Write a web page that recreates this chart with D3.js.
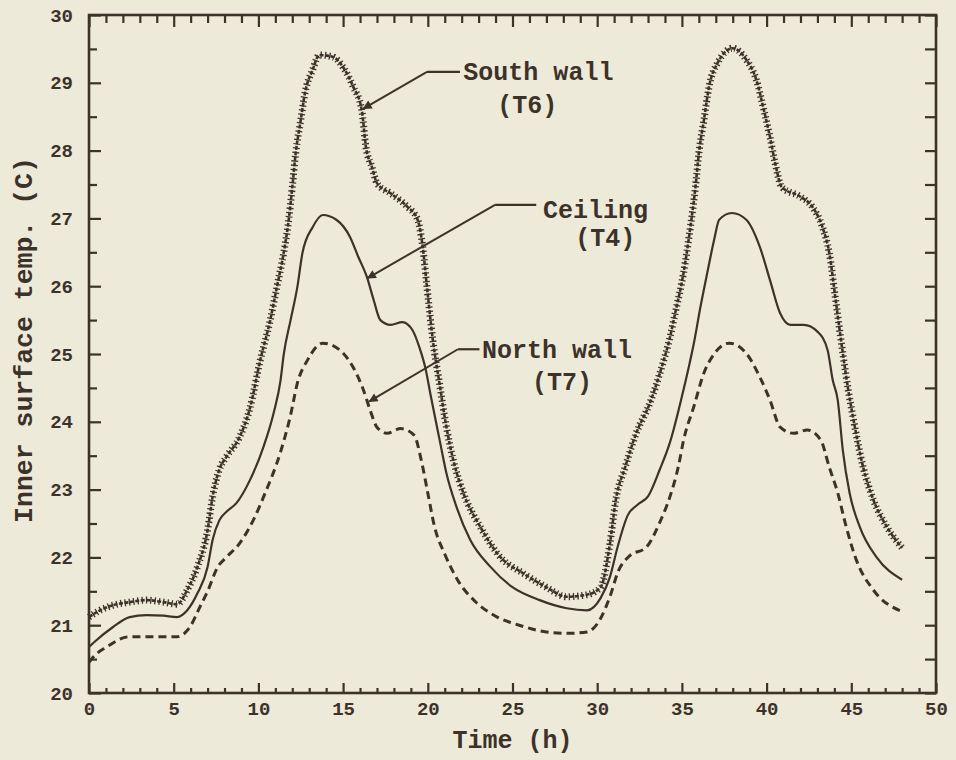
<!DOCTYPE html>
<html>
<head>
<meta charset="utf-8">
<script src="https://cdn.jsdelivr.net/npm/d3@7"></script>
<style>
  html, body { margin: 0; padding: 0; background: #eeead9; }
  svg { display: block; }
</style>
</head>
<body>
<div id="chart"></div>
<script>
// ---------------- data ----------------
const xTicks = [0, 5, 10, 15, 20, 25, 30, 35, 40, 45, 50];
const yTicks = [20, 21, 22, 23, 24, 25, 26, 27, 28, 29, 30];

// South wall (T6)
const tSouth = [0, 0.65, 1.5, 2.4, 3.4, 4.4, 5.2, 5.8, 6.4, 7.0, 7.3, 7.7, 8.1, 8.9, 9.5, 10.1, 10.7, 11.1, 11.5, 11.8, 12.0, 12.2, 12.5, 12.75, 13.2, 13.6, 14.4, 15.0, 15.6, 16.1, 16.35, 16.7, 17.0, 17.8, 18.8, 19.4, 19.7, 19.95, 20.3, 20.7, 21.1, 21.5, 22.1, 23.1, 24.3, 25.6, 27.0, 28.2, 29.4, 30.2, 30.75, 31.1, 31.65, 32.3, 33.1, 33.8, 34.3, 34.6, 35.1, 35.5, 35.8, 36.0, 36.3, 36.6, 37.1, 38.0, 38.8, 39.4, 39.8, 40.2, 40.5, 40.9, 42.0, 42.7, 43.3, 43.7, 44.1, 44.5, 44.8, 45.1, 45.7, 46.3, 47.1, 48.0];
const vSouth = [21.12, 21.22, 21.3, 21.34, 21.37, 21.34, 21.31, 21.52, 21.86, 22.4, 22.9, 23.3, 23.48, 23.78, 24.2, 24.9, 25.5, 26.0, 26.5, 27.0, 27.46, 27.96, 28.45, 28.85, 29.19, 29.41, 29.38, 29.23, 28.94, 28.6, 28.05, 27.76, 27.52, 27.37, 27.17, 26.98, 26.58, 25.99, 25.2, 24.55, 23.92, 23.44, 22.95, 22.45, 22.0, 21.77, 21.56, 21.42, 21.45, 21.56, 22.2, 22.85, 23.33, 23.83, 24.27, 24.8, 25.25, 25.6, 26.2, 26.87, 27.46, 27.96, 28.45, 28.94, 29.29, 29.51, 29.34, 29.04, 28.64, 28.2, 27.82, 27.46, 27.32, 27.17, 26.87, 26.49, 25.75, 25.01, 24.5, 24.07, 23.33, 22.85, 22.45, 22.14];

// Ceiling (T4)
const tCeil = [0, 0.35, 1.4, 2.4, 3.4, 4.4, 5.2, 5.8, 6.4, 7.0, 7.3, 7.7, 8.1, 8.7, 9.5, 10.3, 10.9, 11.3, 11.5, 11.9, 12.3, 12.6, 13.2, 13.8, 14.6, 15.4, 15.9, 16.4, 16.8, 17.2, 17.8, 18.5, 19.1, 19.5, 19.85, 20.2, 20.7, 21.1, 21.7, 22.5, 23.7, 25.0, 26.6, 28.2, 29.4, 30.2, 30.75, 31.2, 31.8, 32.4, 33.0, 33.7, 34.3, 34.95, 35.4, 35.7, 36.1, 36.5, 36.9, 37.2, 37.95, 38.8, 39.6, 40.2, 40.8, 41.4, 42.2, 43.0, 43.6, 43.9, 44.2, 44.5, 44.9, 45.5, 46.5, 48.0];
const vCeil = [20.68, 20.76, 20.97, 21.12, 21.15, 21.14, 21.12, 21.22, 21.47, 21.86, 22.26, 22.55, 22.67, 22.8, 23.14, 23.63, 24.13, 24.6, 25.0, 25.5, 25.99, 26.49, 26.87, 27.05, 26.98, 26.73, 26.43, 26.14, 25.8, 25.5, 25.43, 25.47, 25.35, 25.1, 24.8, 24.35, 23.73, 23.24, 22.74, 22.26, 21.86, 21.56, 21.37, 21.25, 21.22, 21.4, 21.71, 22.15, 22.62, 22.78, 22.9, 23.3, 23.7, 24.32, 24.8, 25.15, 25.7, 26.2, 26.68, 26.98, 27.08, 26.98, 26.58, 26.09, 25.6, 25.43, 25.43, 25.33, 25.06, 24.62, 24.32, 23.58, 22.95, 22.45, 22.0, 21.67];

// North wall (T7)
const tNorth = [0, 0.25, 1.05, 2.4, 3.8, 5.2, 5.95, 6.55, 7.0, 7.6, 8.1, 8.9, 9.7, 10.4, 11.3, 11.9, 12.3, 12.9, 13.8, 14.8, 15.6, 16.2, 16.6, 17.0, 17.6, 18.4, 19.2, 19.6, 20.0, 20.4, 21.0, 21.8, 22.8, 24.1, 25.4, 27.0, 28.2, 29.4, 30.2, 30.75, 31.25, 31.9, 32.9, 33.7, 34.3, 34.8, 35.1, 35.7, 36.3, 36.9, 37.8, 38.8, 39.6, 40.2, 40.8, 41.6, 42.4, 43.2, 43.7, 44.2, 44.7, 45.3, 46.3, 48.0];
const vNorth = [20.45, 20.53, 20.68, 20.83, 20.83, 20.83, 20.97, 21.27, 21.5, 21.86, 22.0, 22.21, 22.55, 22.95, 23.55, 24.1, 24.57, 24.91, 25.16, 25.06, 24.8, 24.47, 24.17, 23.92, 23.83, 23.9, 23.8, 23.45, 22.95, 22.45, 22.05, 21.65, 21.35, 21.12, 21.0, 20.9, 20.88, 20.9, 21.1, 21.42, 21.8, 22.02, 22.15, 22.52, 22.9, 23.35, 23.73, 24.22, 24.72, 25.0, 25.16, 25.01, 24.66, 24.32, 23.92, 23.83, 23.88, 23.73, 23.33, 22.95, 22.45, 21.96, 21.52, 21.2];

const seriesNames = ["South wall", "Ceiling", "North wall"];
const seriesCodes = ["(T6)", "(T4)", "(T7)"];

// ---------------- layout ----------------
const W = 956, H = 760;
const margin = { left: 89, right: 20, top: 15, bottom: 67 };
const ink = "#3d322a";
const bg = "#eeead9";

const svg = d3.select("#chart").append("svg")
  .attr("width", W).attr("height", H);
svg.append("rect").attr("width", W).attr("height", H).attr("fill", bg);

const x = d3.scaleLinear().domain([0, 50]).range([margin.left, W - margin.right]);
const y = d3.scaleLinear().domain([20, 30]).range([H - margin.bottom, margin.top]);

const tickFont = "'Liberation Mono', 'DejaVu Sans Mono', monospace";

// minor ticks
const xMinor = d3.range(0, 51, 1).filter(d => d % 5 !== 0);
const yMinor = d3.range(20, 30.01, 0.5).filter(d => Math.abs(d - Math.round(d)) > 0.01);

function styleAxis(g) {
  g.selectAll("path.domain").remove();
  g.selectAll("line").attr("stroke", ink).attr("stroke-width", 2.2);
  g.selectAll("text").attr("fill", ink)
    .style("font-family", tickFont).style("font-weight", "bold").style("font-size", "19px");
}

const bottomY = y(20), topY = y(30), leftX = x(0), rightX = x(50);

// bottom axis
svg.append("g").attr("transform", `translate(0,${bottomY})`)
  .call(d3.axisBottom(x).tickValues(xTicks).tickSize(-10).tickPadding(9).tickFormat(d3.format("d")))
  .call(styleAxis);
svg.append("g").attr("transform", `translate(0,${bottomY})`)
  .call(d3.axisBottom(x).tickValues(xMinor).tickSize(-5).tickFormat(""))
  .call(styleAxis);
// top axis
svg.append("g").attr("transform", `translate(0,${topY})`)
  .call(d3.axisTop(x).tickValues(xTicks).tickSize(-12).tickFormat(""))
  .call(styleAxis);
svg.append("g").attr("transform", `translate(0,${topY})`)
  .call(d3.axisTop(x).tickValues(xMinor).tickSize(-8).tickFormat(""))
  .call(styleAxis);
// left axis
svg.append("g").attr("transform", `translate(${leftX},0)`)
  .call(d3.axisLeft(y).tickValues(yTicks).tickSize(-12).tickPadding(16).tickFormat(d3.format("d")))
  .call(styleAxis);
svg.append("g").attr("transform", `translate(${leftX},0)`)
  .call(d3.axisLeft(y).tickValues(yMinor).tickSize(-8).tickFormat(""))
  .call(styleAxis);
// right axis
svg.append("g").attr("transform", `translate(${rightX},0)`)
  .call(d3.axisRight(y).tickValues(yTicks.concat(yMinor)).tickSize(-11).tickFormat(""))
  .call(styleAxis);

// frame
svg.append("rect")
  .attr("x", leftX).attr("y", topY)
  .attr("width", rightX - leftX).attr("height", bottomY - topY)
  .attr("fill", "none").attr("stroke", ink).attr("stroke-width", 2.6);

// axis titles
svg.append("text")
  .attr("x", (leftX + rightX) / 2).attr("y", H - 12)
  .attr("text-anchor", "middle")
  .attr("fill", ink)
  .style("font-family", tickFont).style("font-weight", "bold").style("font-size", "25px")
  .text("Time (h)");
svg.append("text")
  .attr("transform", `translate(32,${(topY + bottomY) / 2 - 14}) rotate(-90)`)
  .attr("text-anchor", "middle")
  .attr("fill", ink)
  .style("font-family", tickFont).style("font-weight", "bold").style("font-size", "26.5px")
  .text("Inner surface temp. (C)");

// ---------------- lines ----------------
const line = d3.line().x(d => x(d[0])).y(d => y(d[1])).curve(d3.curveMonotoneX);
const south = d3.zip(tSouth, vSouth);
const ceil = d3.zip(tCeil, vCeil);
const north = d3.zip(tNorth, vNorth);

const plot = svg.append("g");
// South wall: core line with cross-bars
plot.append("path").datum(south).attr("d", line)
  .attr("fill", "none").attr("stroke", ink).attr("stroke-width", 2.6)
  .attr("stroke-dasharray", "4,1.5");
plot.append("path").datum(south).attr("d", line)
  .attr("fill", "none").attr("stroke", ink).attr("stroke-width", 7)
  .attr("stroke-dasharray", "1.3,3");
// Ceiling: solid
plot.append("path").datum(ceil).attr("d", line)
  .attr("fill", "none").attr("stroke", ink).attr("stroke-width", 2.2);
// North wall: dashed
plot.append("path").datum(north).attr("d", line)
  .attr("fill", "none").attr("stroke", ink).attr("stroke-width", 3)
  .attr("stroke-dasharray", "8,5");

// ---------------- annotations ----------------
svg.append("defs").append("marker")
  .attr("id", "arrow").attr("viewBox", "0 0 10 10")
  .attr("refX", 9).attr("refY", 5)
  .attr("markerWidth", 14).attr("markerHeight", 9)
  .attr("markerUnits", "userSpaceOnUse")
  .attr("orient", "auto")
  .append("path").attr("d", "M0,0 L10,5 L0,10 Z").attr("fill", ink);

// leader geometry in data units: tip, elbow, end of horizontal stub, text anchors
const leaders = [
  { tip: [16.2, 28.62], elbow: [19.95, 29.16], end: [21.9, 29.16], name: [22.1, 29.04], code: [24.1, 28.55] },
  { tip: [16.45, 26.12], elbow: [23.97, 27.2], end: [26.4, 27.2], name: [26.8, 27.0], code: [28.7, 26.59] },
  { tip: [16.55, 24.3], elbow: [21.78, 25.07], end: [23.05, 25.07], name: [23.2, 24.94], code: [26.15, 24.47] }
];

leaders.forEach((L, i) => {
  svg.append("line")
    .attr("x1", x(L.elbow[0])).attr("y1", y(L.elbow[1]))
    .attr("x2", x(L.end[0])).attr("y2", y(L.end[1]))
    .attr("stroke", ink).attr("stroke-width", 2.2);
  svg.append("line")
    .attr("x1", x(L.elbow[0])).attr("y1", y(L.elbow[1]))
    .attr("x2", x(L.tip[0])).attr("y2", y(L.tip[1]))
    .attr("stroke", ink).attr("stroke-width", 2)
    .attr("marker-end", "url(#arrow)");
  svg.append("text")
    .attr("x", x(L.name[0])).attr("y", y(L.name[1]))
    .attr("fill", ink)
    .style("font-family", tickFont).style("font-weight", "bold").style("font-size", "25px")
    .text(seriesNames[i]);
  svg.append("text")
    .attr("x", x(L.code[0])).attr("y", y(L.code[1]))
    .attr("fill", ink)
    .style("font-family", tickFont).style("font-weight", "bold").style("font-size", "25px")
    .text(seriesCodes[i]);
});
</script>
</body>
</html>
